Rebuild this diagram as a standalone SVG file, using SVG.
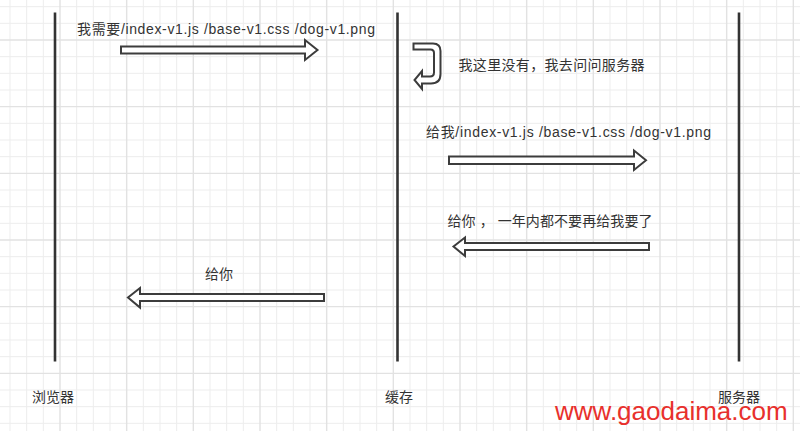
<svg xmlns="http://www.w3.org/2000/svg" width="800" height="431" viewBox="0 0 800 431">
<style>
.minor{stroke:#ededed;stroke-width:1;fill:none}
.major{stroke:#e2e2e2;stroke-width:1.4;fill:none}
.life{stroke:#333;stroke-width:2.6;fill:none}
.arrow{fill:#fff;stroke:#3c3c3c;stroke-width:2;stroke-linejoin:miter}
.t{font-family:"Liberation Sans","Noto Sans CJK SC",sans-serif;font-size:14px;fill:#333}
.wm{font-family:"Liberation Sans",Arial,sans-serif;font-size:26px;fill:#e8302c}
</style>
<rect width="800" height="431" fill="#fff"/>
<g id="grid">
<path class="minor" d="M10 0V431M26.67 0V431M43.33 0V431M76.67 0V431M93.33 0V431M110 0V431M143.33 0V431M160 0V431M176.67 0V431M210 0V431M226.67 0V431M243.33 0V431M276.67 0V431M293.33 0V431M310 0V431M343.33 0V431M360 0V431M376.67 0V431M410 0V431M426.67 0V431M443.33 0V431M476.67 0V431M493.33 0V431M510 0V431M543.33 0V431M560 0V431M576.67 0V431M610 0V431M626.67 0V431M643.33 0V431M676.67 0V431M693.33 0V431M710 0V431M743.33 0V431M760 0V431M776.67 0V431
M0 6.67H800M0 23.33H800M0 56.67H800M0 73.33H800M0 90H800M0 123.33H800M0 140H800M0 156.67H800M0 190H800M0 206.67H800M0 223.33H800M0 256.67H800M0 273.33H800M0 290H800M0 323.33H800M0 340H800M0 356.67H800M0 390H800M0 406.67H800M0 423.33H800"/>
<path class="major" d="M60 0V431M126.67 0V431M193.33 0V431M260 0V431M326.67 0V431M393.33 0V431M460 0V431M526.67 0V431M593.33 0V431M660 0V431M726.67 0V431M793.33 0V431
M0 40H800M0 106.67H800M0 173.33H800M0 240H800M0 306.67H800M0 373.33H800"/>
</g>
<g id="browser">
<line class="life" x1="55" y1="12.5" x2="55" y2="361.5"/>
<text class="t" x="32" y="402">浏览器</text>
</g>
<g id="cache">
<line class="life" x1="397.5" y1="12.5" x2="397.5" y2="361.5"/>
<text class="t" x="385" y="402">缓存</text>
</g>
<g id="server">
<line class="life" x1="739" y1="12.5" x2="739" y2="361.5"/>
<text class="t" x="718" y="402">服务器</text>
</g>
<g id="connectors">
<g id="req1">
<path class="arrow" d="M121 46.5H305V40L317.5 50L305 60V53.5H121Z"/>
<text class="t" x="77" y="33.5" textLength="298" lengthAdjust="spacing">我需要/index-v1.js /base-v1.css /dog-v1.png</text>
</g>
<g id="self">
<path class="arrow" d="M413.5 43.5H433Q440.5 43.5 440.5 51V74Q440.5 83.5 431 83.5H422V89L414.5 80L422 71V76.5H430Q434 76.5 434 72.5V53Q434 49.5 430.5 49.5H413.5Z"/>
<text class="t" x="458.5" y="69.5" textLength="186" lengthAdjust="spacing">我这里没有，我去问问服务器</text>
</g>
<g id="req2">
<path class="arrow" d="M449 156.5H634V150.5L646 160.3L634 170V164H449Z"/>
<text class="t" x="426" y="137" textLength="285" lengthAdjust="spacing">给我/index-v1.js /base-v1.css /dog-v1.png</text>
</g>
<g id="resp1">
<path class="arrow" d="M649 243H465V237.5L453.5 246.5L465 256V250H649Z"/>
<text class="t" x="447.5" y="226" textLength="205" lengthAdjust="spacing">给你 ， 一年内都不要再给我要了</text>
</g>
<g id="resp2">
<path class="arrow" d="M324 294H140V288L128 297.5L140 307.5V301H324Z"/>
<text class="t" x="205" y="278.5">给你</text>
</g>
</g>
<text class="wm" x="555" y="420">www.gaodaima.com</text>
</svg>
